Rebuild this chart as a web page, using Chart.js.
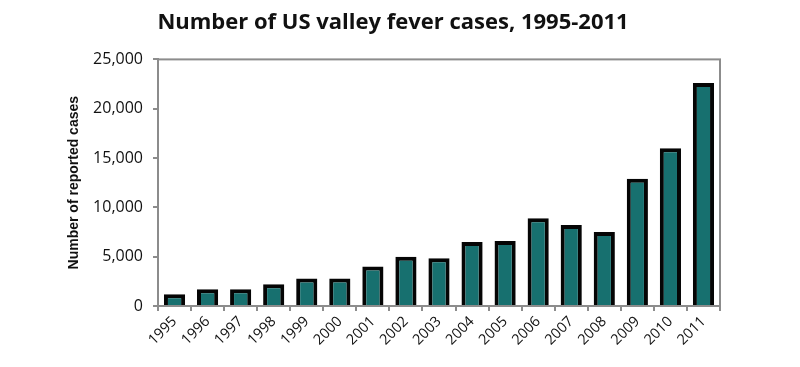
<!DOCTYPE html>
<html lang="en">
<head>
  <meta charset="UTF-8">
  <title>Number of US valley fever cases, 1995-2011</title>
  <script src="https://cdn.jsdelivr.net/npm/chart.js"></script>
  <style>
    html, body { margin: 0; padding: 0; background: #fff; }
    #wrap { width: 800px; height: 367px; position: relative; }
  </style>
</head>
<body>
  <div id="wrap"><canvas id="casesChart" width="800" height="367"></canvas></div>
  <script>
    // Jaren en gemelde gevallen
    const years = ['1995', '1996', '1997', '1998', '1999', '2000', '2001', '2002', '2003',
                   '2004', '2005', '2006', '2007', '2008', '2009', '2010', '2011'];
    const cases = [1200, 1700, 1700, 2200, 2800, 2800, 4000, 5000, 4850,
                   6500, 6600, 8900, 8200, 7500, 12900, 16000, 22600];
    const yTicks = [0, 5000, 10000, 15000, 20000, 25000];

    // Grijze rand rond het plotgebied
    const frame = {
      id: 'frame',
      afterDraw(chart) {
        const a = chart.chartArea, ctx = chart.ctx;
        ctx.save();
        ctx.strokeStyle = '#8c8c8c';
        ctx.lineWidth = 2;
        ctx.strokeRect(a.left, a.top, a.right - a.left, a.bottom - a.top);
        ctx.restore();
      }
    };

    const ctx = document.getElementById('casesChart').getContext('2d');
    new Chart(ctx, {
      type: 'bar',
      data: {
        labels: years,
        datasets: [{
          data: cases,
          backgroundColor: '#17706f',
          borderColor: '#050505',
          borderWidth: 4,
          categoryPercentage: 1,
          barPercentage: 0.64
        }]
      },
      options: {
        responsive: false,
        animation: false,
        layout: { padding: { left: 66, right: 80, top: 0, bottom: 0 } },
        plugins: {
          legend: { display: false },
          tooltip: { enabled: false },
          title: {
            display: true,
            text: 'Number of US valley fever cases, 1995-2011',
            color: '#111',
            font: { family: 'Open Sans', size: 22, weight: 'bold' },
            padding: { top: 10, bottom: 23 }
          }
        },
        scales: {
          x: {
            grid: { drawOnChartArea: false, offset: true, color: '#8c8c8c', lineWidth: 2, tickLength: 5 },
            border: { color: '#8c8c8c', width: 2 },
            ticks: {
              color: '#111',
              font: { family: 'Open Sans', size: 14.5 },
              minRotation: 45,
              maxRotation: 45,
              padding: 2
            },
            afterFit(scale) { scale.height = 61; }
          },
          y: {
            min: 0,
            max: 25000,
            afterBuildTicks(scale) { scale.ticks = yTicks.map(v => ({ value: v })); },
            grid: { drawOnChartArea: false, color: '#8c8c8c', lineWidth: 2, tickLength: 5 },
            border: { color: '#8c8c8c', width: 2 },
            ticks: {
              color: '#111',
              font: { family: 'Open Sans', size: 16 },
              padding: 10,
              callback: v => v.toLocaleString('en-US')
            },
            title: {
              display: true,
              text: 'Number of reported cases',
              color: '#111',
              font: { family: 'Liberation Sans', size: 14, weight: 'bold' },
              padding: { top: 0, bottom: 0 }
            },
            afterFit(scale) { scale.width = 92; }
          }
        }
      },
      plugins: [frame]
    });
  </script>
</body>
</html>
